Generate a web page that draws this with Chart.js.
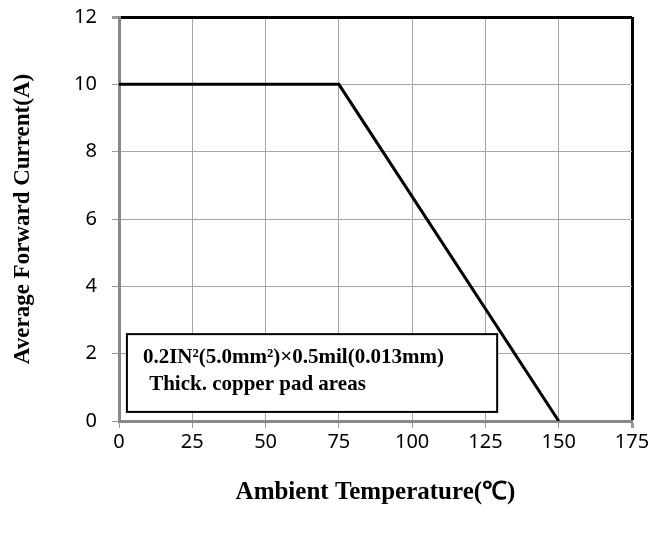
<!DOCTYPE html>
<html>
<head>
<meta charset="utf-8">
<script src="https://cdn.jsdelivr.net/npm/chart.js@4"></script>
<style>
  html, body { margin: 0; padding: 0; background: #fff; }
  #wrap { width: 652px; height: 534px; }
</style>
</head>
<body>
<div id="wrap"><canvas id="derating"></canvas></div>
<script>
// derating curve
const temps = [0, 75, 150];
const current = [10, 10, 0];
const xTicks = [0, 25, 50, 75, 100, 125, 150, 175];
const yTicks = [0, 2, 4, 6, 8, 10, 12];
const noteLines = ['0.2IN²(5.0mm²)×0.5mil(0.013mm)', ' Thick. copper pad areas'];

const gridGrey = '#a6a6a6';
const serif = '"Liberation Serif", "Times New Roman", serif';
const sans = '"Noto Sans", "Open Sans", sans-serif';

// text box in the lower left of the plot
const noteBox = {
    id: 'noteBox',
    afterDatasetsDraw(chart) {
        const {ctx, scales: {x, y}} = chart;
        const l = x.getPixelForValue(2.7), r = x.getPixelForValue(129);
        const t = y.getPixelForValue(2.58), b = y.getPixelForValue(0.27);
        ctx.save();
        ctx.fillStyle = '#fff';
        ctx.fillRect(l, t, r - l, b - t);
        ctx.strokeStyle = '#000';
        ctx.lineWidth = 2;
        ctx.strokeRect(l, t, r - l, b - t);
        ctx.fillStyle = '#000';
        ctx.font = 'bold 21px ' + serif;
        ctx.textBaseline = 'middle';
        ctx.fillText(noteLines[0], l + 16, t + 23);
        ctx.fillText(noteLines[1], l + 17, t + 50);
        ctx.restore();
    }
};

new Chart(document.getElementById('derating'), {
    type: 'scatter',
    data: {
        datasets: [{
            data: temps.map((t, i) => ({x: t, y: current[i]})),
            showLine: true,
            borderColor: '#000',
            borderWidth: 3,
            pointRadius: 0,
            tension: 0
        }]
    },
    options: {
        responsive: true,
        maintainAspectRatio: false,
        animation: false,
        layout: { padding: { top: 17, right: 20, bottom: 0, left: 0 } },
        scales: {
            x: {
                type: 'linear',
                min: 0,
                max: 175,
                afterBuildTicks: s => { s.ticks = xTicks.map(v => ({value: v})); },
                afterFit: s => { s.height = 113; s.paddingLeft = 0; s.paddingRight = 0; },
                border: { color: '#888', width: 3 },
                grid: {
                    color: c => c.tick && c.tick.value === 175 ? '#000' : gridGrey,
                    lineWidth: c => c.tick && c.tick.value === 175 ? 3 : 1,
                    tickColor: '#999',
                    tickLength: 7
                },
                ticks: {
                    color: '#000',
                    padding: 2,
                    maxRotation: 0,
                    font: { family: sans, size: 20 }
                },
                title: {
                    display: true,
                    text: 'Ambient Temperature(℃)',
                    color: '#000',
                    padding: { top: 0, bottom: 26 },
                    font: { family: serif, size: 25, weight: 'bold' }
                }
            },
            y: {
                min: 0,
                max: 12,
                afterBuildTicks: s => { s.ticks = yTicks.map(v => ({value: v})); },
                afterFit: s => { s.width = 119; s.paddingTop = 0; s.paddingBottom = 0; },
                border: { color: '#888', width: 3 },
                grid: {
                    color: c => c.tick && c.tick.value === 12 ? '#000' : gridGrey,
                    lineWidth: c => c.tick && c.tick.value === 12 ? 3 : 1,
                    tickColor: '#999',
                    tickLength: 7
                },
                ticks: {
                    color: '#000',
                    padding: 15,
                    font: { family: sans, size: 20 }
                },
                title: {
                    display: true,
                    text: 'Average Forward Current(A)',
                    color: '#000',
                    padding: { top: 9, bottom: 0 },
                    font: { family: serif, size: 23, weight: 'bold' }
                }
            }
        },
        plugins: {
            legend: { display: false },
            tooltip: { enabled: false }
        }
    },
    plugins: [noteBox]
});
</script>
</body>
</html>
